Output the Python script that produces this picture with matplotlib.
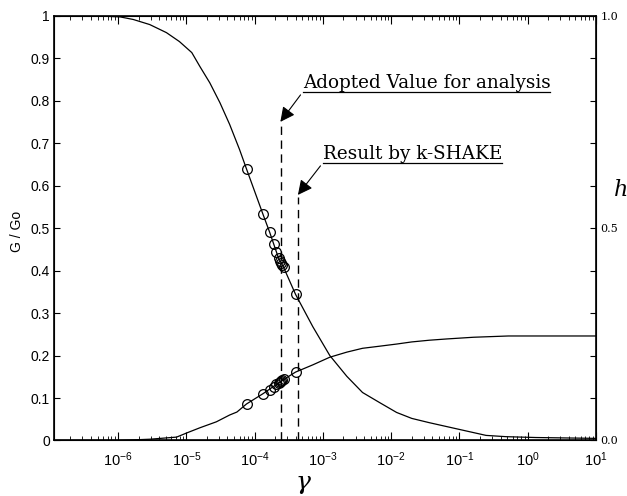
import numpy as np
import matplotlib
matplotlib.use("Agg")
import matplotlib.pyplot as plt
from matplotlib.lines import Line2D
from matplotlib.text import Text
from matplotlib.ticker import FixedLocator, LogLocator, NullFormatter

plt.rcParams['font.family'] = ['Liberation Sans', 'DejaVu Sans']
plt.rcParams['mathtext.fontset'] = 'custom'
plt.rcParams['mathtext.rm'] = 'Liberation Sans'

# G/Go curve
strain_g = [1.15e-7, 5.4e-7, 1.07e-6, 1.66e-6, 2.9e-6, 5.1e-6, 7.9e-6, 1.2e-5,
            1.58e-5, 2.2e-5, 3.1e-5, 4.3e-5, 6.0e-5, 7.6e-5, 1.32e-4, 1.66e-4,
            2.24e-4, 2.63e-4, 3.97e-4, 7.1e-4, 1.26e-3, 2.24e-3, 3.8e-3, 6.8e-3,
            1.2e-2, 2.0e-2, 3.6e-2, 0.1, 0.245, 0.48, 1.32, 10]
g_ratio = [1.0, 0.999, 0.997, 0.991, 0.979, 0.960, 0.939, 0.913,
           0.880, 0.842, 0.795, 0.744, 0.685, 0.639, 0.533, 0.490,
           0.429, 0.409, 0.344, 0.268, 0.200, 0.151, 0.113, 0.089,
           0.066, 0.052, 0.042, 0.026, 0.012, 0.009, 0.007, 0.005]

# damping curve h
strain_h = [1.15e-7, 1e-6, 2.9e-6, 7.2e-6, 1.02e-5, 1.58e-5, 2.75e-5, 4.3e-5,
            5.5e-5, 7.6e-5, 1.32e-4, 2.63e-4, 3.97e-4, 7.1e-4, 1.26e-3, 2.24e-3,
            3.8e-3, 6.8e-3, 1.2e-2, 2.0e-2, 3.6e-2, 6.5e-2, 0.16, 0.52, 10]
damping = [0.0, 0.0, 0.003, 0.008, 0.018, 0.030, 0.044, 0.060,
           0.067, 0.086, 0.110, 0.143, 0.161, 0.178, 0.196, 0.208,
           0.217, 0.222, 0.227, 0.232, 0.236, 0.239, 0.243, 0.246, 0.246]

# k-SHAKE iteration points
strain_pts = [7.6e-5, 1.32e-4, 1.66e-4, 1.91e-4, 2.08e-4, 2.24e-4, 2.35e-4,
              2.45e-4, 2.55e-4, 2.65e-4, 3.97e-4]
g_pts = [0.639, 0.533, 0.490, 0.462, 0.444, 0.429, 0.423, 0.417, 0.413, 0.409, 0.344]
h_pts = [0.086, 0.110, 0.120, 0.127, 0.132, 0.136, 0.138, 0.141, 0.142, 0.144, 0.161]

# strain levels marked by dashed lines
strain_adopted, top_adopted = 2.4e-4, 0.748
strain_kshake, top_kshake = 4.3e-4, 0.574

x_major = [1e-6, 1e-5, 1e-4, 1e-3, 1e-2, 1e-1, 1e0, 1e1]

fig = plt.figure(figsize=(6.27, 4.96), dpi=100)
ax = fig.add_axes([0.0861, 0.1119, 0.8645, 0.8566])

ax.plot(strain_g, g_ratio, color='k', lw=0.9)
ax.plot(strain_pts, g_pts, 'o', mfc='none', mec='k', ms=7, mew=0.9)

ax.vlines(strain_adopted, 0, top_adopted, color='k', lw=1, linestyles=(0, (6, 4)))
ax.vlines(strain_kshake, 0, top_kshake, color='k', lw=1, linestyles=(0, (6, 4)))

ax.set_xscale('log')
ax.set_xlim(1.15e-7, 10)
ax.set_ylim(0, 1)
ax.xaxis.set_major_locator(FixedLocator(x_major))
ax.xaxis.set_minor_locator(LogLocator(base=10, subs=np.arange(2, 10), numticks=20))
ax.xaxis.set_minor_formatter(NullFormatter())
yt = np.round(np.arange(0, 1.01, 0.1), 1)
ax.set_yticks(yt)
ax.set_yticklabels(['0'] + ['%.1f' % v for v in yt[1:-1]] + ['1'])
ax.tick_params(which='both', direction='in', top=True, labelsize=10)
ax.tick_params(axis='x', which='major', length=6, pad=7, labelsize=10.5)
ax.tick_params(axis='x', which='minor', length=3)
ax.tick_params(axis='y', length=4, pad=3)
for s in ax.spines.values():
    s.set_linewidth(1.2)

ax2 = ax.twinx()
ax2.plot(strain_h, damping, color='k', lw=0.9)
ax2.plot(strain_pts, h_pts, 'o', mfc='none', mec='k', ms=7, mew=0.9)
ax2.set_ylim(0, 1)
ax2.set_yticks(yt)
ax2.set_yticklabels(['0.0' if v == 0 else '0.5' if v == 0.5 else '1.0' if v == 1 else ''
                     for v in yt], family='DejaVu Serif', fontsize=8)
ax2.tick_params(axis='y', direction='in', length=4, pad=3)

arrow = dict(arrowstyle='-|>', color='k', lw=0.8, mutation_scale=22,
             relpos=(0, 0), shrinkA=0, shrinkB=0)
t1 = ax.annotate('Adopted Value for analysis', xy=(2.38e-4, 0.75), xytext=(5.04e-4, 0.82),
                 ha='left', va='bottom', family='DejaVu Serif', fontsize=13.2,
                 arrowprops=arrow)
t2 = ax.annotate('Result by k-SHAKE', xy=(4.3e-4, 0.578), xytext=(9.9e-4, 0.653),
                 ha='left', va='bottom', family='DejaVu Serif', fontsize=13.2,
                 arrowprops=arrow)

fig.text(17 / 627, 1 - 231 / 496, 'G / Go', rotation=90, ha='center', va='center', fontsize=10)
fig.text(303 / 627, 1 - 483 / 496, 'γ', style='italic', family='DejaVu Serif',
         ha='center', va='center', fontsize=18)
fig.text(614 / 627, 1 - 190 / 496, 'h', style='italic', family='DejaVu Serif',
         ha='left', va='center', fontsize=16)

# underline the two notes (text box only, not the arrow)
fig.canvas.draw()
r = fig.canvas.get_renderer()
inv = fig.transFigure.inverted()
for t in (t1, t2):
    bb = Text.get_window_extent(t, r)
    (x0, y0), (x1, _) = inv.transform([(bb.x0, bb.y0), (bb.x1, bb.y0)])
    fig.add_artist(Line2D([x0, x1], [y0, y0], color='k', lw=0.9, transform=fig.transFigure))

fig.savefig('out.png', dpi=100)
